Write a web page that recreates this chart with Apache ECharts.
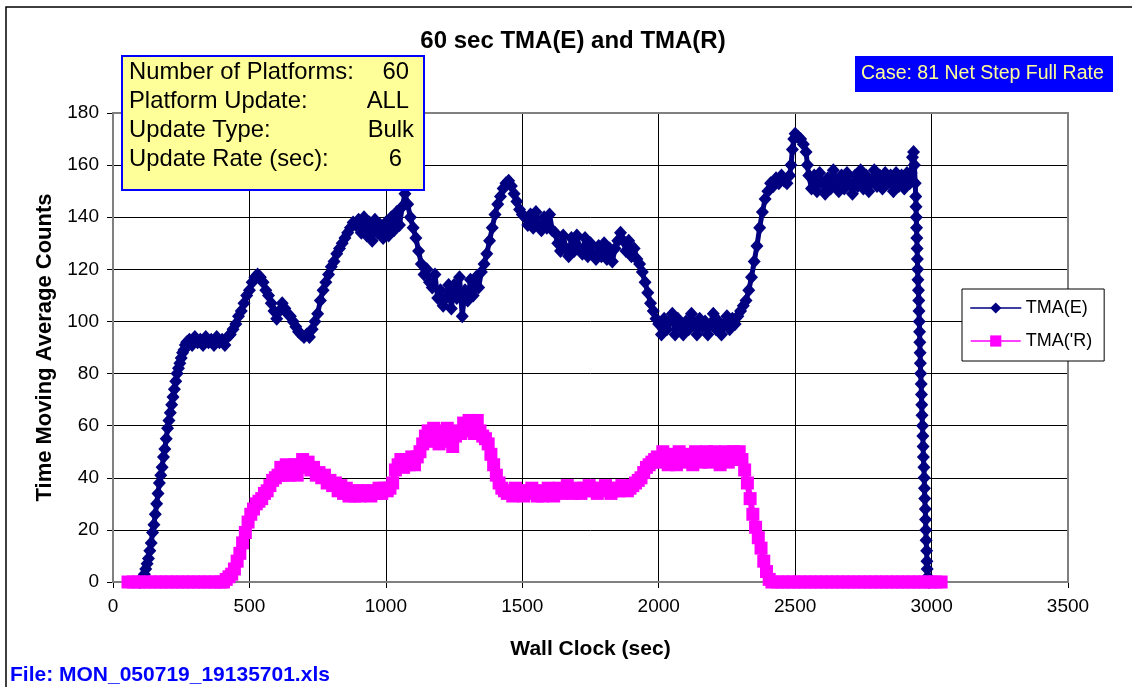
<!DOCTYPE html>
<html>
<head>
<meta charset="utf-8">
<script src="https://cdn.jsdelivr.net/npm/echarts@6/dist/echarts.min.js"></script>
<style>
html,body{margin:0;padding:0;background:#fff;}
#chart{width:1132px;height:687px;}
</style>
</head>
<body>
<div id="chart"></div>
<script>
// ---------------- DATA ----------------
const chartTitle = '60 sec TMA(E) and TMA(R)';
const xAxisName = 'Wall Clock (sec)';
const yAxisName = 'Time Moving Average Counts';
const seriesNames = ['TMA(E)', "TMA('R)"];
const infoLabels = ['Number of Platforms:', 'Platform Update:', 'Update Type:', 'Update Rate (sec):'];
const infoValues = ['60', 'ALL', 'Bulk', '6'];
const caseText = 'Case: 81 Net Step Full Rate';
const fileText = 'File: MON_050719_19135701.xls';

// TMA(E): [wall clock sec, count]
const tmaE = [
[100,0],[105,1],[110,2],[115,3],[120,5],[125,7],[130,9],[135,12],[140,15],[145,19],[150,22],[155,26],[160,30],[165,34],[170,38],[175,41],[180,44],[185,48],[190,51],[195,55],[200,59],[205,62],[210,65],[215,68],[220,71],[225,74],[230,77],[235,80],[240,82],[245,84],[250,86],[255,88],[260,89],[265,91],[270,92],
[280,93],[290,91],[300,94],[310,92],[320,93],[330,91],[340,94],[350,92],[360,93],[370,91],[380,94],[390,92],[400,93],[410,91],[420,94],
[430,95],[440,97],[450,99],[460,102],[470,104],[480,107],[490,110],[500,112],[510,115],[520,117],[530,118],[540,117],[550,115],[560,112],[570,110],[580,107],[590,104],[600,101],[610,104],[620,107],[630,105],[640,103],[650,102],[660,100],[670,98],[680,96],[690,95],[700,94],[710,95],[720,94],[730,97],[740,100],[750,103],[760,108],[770,112],[780,115],[790,118],[800,121],[810,123],[820,126],[830,128],[840,130],[850,132],[860,134],[870,136],[880,138],
[890,137],[900,139],[910,134],[920,140],[930,133],[940,138],[950,131],[960,139],[970,134],[980,137],[990,132],[1000,138],[1010,133],[1020,140],[1030,135],[1040,142],[1050,137],[1060,144],[1070,149],[1080,145],[1090,140],[1100,136],[1110,132],[1120,127],[1130,122],[1140,118],[1150,120],[1160,115],[1170,113],[1180,118],[1190,109],[1200,112],[1210,106],[1220,109],[1230,114],[1240,105],[1250,114],[1260,109],[1270,117],[1280,102],[1290,112],[1300,108],[1310,116],[1320,110],[1330,117],[1340,113],[1350,119],[1360,122],[1370,126],[1380,131],[1390,136],[1400,141],[1410,145],[1420,148],[1430,151],[1440,153],[1450,154],[1460,152],[1470,149],[1480,146],[1490,143],[1500,141],[1510,140],[1520,137],[1530,141],[1540,136],[1550,142],[1560,137],[1570,135],[1580,140],[1590,136],[1600,141],[1610,135],[1620,134],[1630,130],[1640,127],[1650,133],[1660,128],[1670,125],[1680,132],[1690,127],[1700,133],[1710,128],[1720,126],[1730,132],[1740,125],[1750,130],[1760,126],[1770,124],[1780,129],[1790,125],[1800,130],[1810,124],[1820,128],[1830,123],[1840,128],[1850,131],[1860,134],[1870,131],[1880,127],[1890,131],[1900,125],[1910,128],[1920,124],[1930,122],[1940,119],[1950,115],[1960,111],[1970,107],[1980,104],[1990,101],
[2000,99],[2010,95],[2020,101],[2030,97],[2040,100],[2050,103],[2060,95],[2070,101],[2080,98],[2090,95],[2100,100],[2110,97],[2120,103],[2130,99],[2140,95],[2150,101],[2160,98],[2170,100],[2180,95],[2190,99],[2200,103],[2210,97],[2220,100],[2230,95],[2240,99],[2250,102],[2260,97],[2270,101],[2280,99],[2290,102],[2300,104],[2310,106],[2320,108],[2330,112],[2340,117],[2350,123],[2360,129],[2370,136],[2380,142],[2390,147],[2400,150],[2410,153],[2420,152],[2430,155],[2440,153],[2450,156],[2460,154],[2470,153],[2480,156],[2485,160],[2490,166],[2495,170],[2500,172],[2510,171],[2520,170],[2530,168],[2540,165],[2545,160],[2550,156],
[2560,151],[2570,156],[2580,150],[2590,157],[2600,153],[2610,149],[2620,155],[2630,151],[2640,158],[2650,153],[2660,150],[2670,156],[2680,151],[2690,157],[2700,153],[2710,149],[2720,156],[2730,152],[2740,158],[2750,151],[2760,156],[2770,150],[2780,154],[2790,158],[2800,152],[2810,156],[2820,151],[2830,157],[2840,153],[2850,156],[2860,150],[2870,157],[2880,152],[2890,156],[2900,151],[2910,157],[2920,153],[2925,157],[2930,163],[2934,165],[2937,160],[2940,153],
[2942,148],[2943,144],[2944,140],[2945,136],[2946,132],[2947,128],[2948,124],[2949,120],[2950,116],[2952,112],[2953,108],[2954,104],[2955,100],[2956,96],[2957,92],[2958,88],[2959,84],[2960,80],[2962,76],[2963,72],[2964,68],[2965,64],[2967,60],[2968,56],[2969,52],[2970,48],[2972,44],[2973,40],[2974,36],[2975,32],[2977,28],[2978,24],[2979,20],[2980,16],[2982,12],[2983,8],[2984,5],[2986,2],[2988,0]
];

// TMA('R): [wall clock sec, count]
const tmaR = [
[55,0],[75,0],[95,0],[115,0],[135,0],[155,0],[175,0],[195,0],[215,0],[235,0],[255,0],[275,0],[295,0],[315,0],[335,0],[355,0],[375,0],[395,0],
[405,0],[415,1],[425,2],[435,3],[445,5],[455,8],[465,11],[475,15],[485,19],[495,23],[505,26],[515,28],[525,30],[535,31],[545,32],[555,34],[565,35],[575,37],[585,39],[595,40],[605,41],[615,44],[625,41],[635,45],[645,41],[655,44],[665,45],[675,41],[685,45],[695,47],[705,44],[715,46],[725,43],[735,44],[745,41],[755,42],[765,40],[775,41],[785,38],[795,39],[805,37],[815,38],[825,35],[835,37],[845,34],[855,36],[865,33],[875,35],[885,33],[895,35],[905,33],[915,35],[925,34],[935,35],[945,33],[955,35],[965,34],[975,36],[985,34],[995,36],[1005,35],[1015,36],[1025,38],[1035,43],[1045,45],[1055,47],[1065,44],[1075,47],[1085,45],[1095,48],[1105,45],[1115,48],[1125,50],[1135,53],[1145,56],[1155,58],[1165,54],[1175,59],[1185,56],[1195,53],[1205,58],[1215,55],[1225,59],[1235,54],[1245,52],[1255,56],[1265,58],[1275,57],[1285,61],[1295,58],[1305,62],[1315,59],[1325,57],[1335,62],[1345,58],[1355,56],[1365,55],[1375,53],[1385,49],[1395,45],[1405,41],[1415,38],[1425,36],[1435,35],[1445,34],
[1455,35],[1465,33],[1475,36],[1485,34],[1495,35],[1505,33],[1515,35],[1525,34],[1535,36],[1545,35],[1555,33],[1565,35],[1575,33],[1585,34],[1595,36],[1605,35],[1615,33],[1625,35],[1635,36],[1645,34],[1655,35],[1665,37],[1675,35],[1685,34],[1695,36],[1705,35],[1715,34],[1725,36],[1735,35],[1745,37],[1755,36],[1765,35],[1775,34],[1785,36],[1795,35],[1805,37],[1815,36],[1825,34],[1835,35],[1845,36],[1855,35],[1865,37],[1875,36],[1885,35],[1895,36],
[1905,37],[1915,38],[1925,39],[1935,40],[1945,42],[1955,44],[1965,45],[1975,46],[1985,47],[1995,48],[2005,46],[2015,50],[2025,47],[2035,45],[2045,49],[2055,47],[2065,45],[2075,50],[2085,47],[2095,46],[2105,49],[2115,47],[2125,45],[2135,50],[2145,47],[2155,46],[2165,48],[2175,50],[2185,46],[2195,48],[2205,50],[2215,47],[2225,45],[2235,48],[2245,50],[2255,46],[2265,48],[2275,50],[2285,47],[2295,50],[2305,47],[2315,43],[2325,38],[2335,32],[2345,26],[2355,21],[2365,17],[2375,13],[2385,8],[2395,4],[2405,1],[2415,0],
[2435,0],[2455,0],[2475,0],[2495,0],[2515,0],[2535,0],[2555,0],[2575,0],[2595,0],[2615,0],[2635,0],[2655,0],[2675,0],[2695,0],[2715,0],[2735,0],[2755,0],[2775,0],[2795,0],[2815,0],[2835,0],[2855,0],[2875,0],[2895,0],[2915,0],[2935,0],[2955,0],[2975,0],[2995,0],[3015,0],[3035,0]
];

const xMin = 0, xMax = 3500, xStep = 500;
const yMin = 0, yMax = 180, yStep = 20;

// ---------------- CHART ----------------
const FONT = "'Liberation Sans', Arial, sans-serif";
const chart = echarts.init(document.getElementById('chart'), null, {renderer: 'canvas'});

const infoRowsY = [72, 101, 130, 159];
const infoValueRight = [409, 409, 414, 402];
const graphics = [
  {type: 'rect', z: 0, silent: true, shape: {x: 6, y: 7, width: 1140, height: 700},
   style: {fill: '#fff', stroke: '#000', lineWidth: 1.5}},
  {type: 'text', z: 100, style: {text: chartTitle, x: 573, y: 41, align: 'center', textAlign: 'center',
   verticalAlign: 'middle', textVerticalAlign: 'middle', fill: '#000',
   font: 'bold 24px ' + FONT}},
  {type: 'rect', z: 100, shape: {x: 122, y: 56, width: 302, height: 134},
   style: {fill: '#FFFF99', stroke: '#0000FF', lineWidth: 2}},
  {type: 'rect', z: 100, shape: {x: 855, y: 56, width: 258, height: 36},
   style: {fill: '#0000FF', stroke: '#0000FF', lineWidth: 0}},
  {type: 'text', z: 101, style: {text: caseText, x: 861, y: 74, align: 'left', textAlign: 'left',
   verticalAlign: 'middle', textVerticalAlign: 'middle', fill: '#FFFF99', font: '19.5px ' + FONT}},
  {type: 'text', z: 101, style: {text: fileText, x: 10, y: 675, align: 'left', textAlign: 'left',
   verticalAlign: 'middle', textVerticalAlign: 'middle', fill: '#0000FF', font: 'bold 21px ' + FONT}}
];
infoLabels.forEach((t, i) => {
  graphics.push({type: 'text', z: 101, style: {text: t, x: 129, y: infoRowsY[i], align: 'left', textAlign: 'left',
    verticalAlign: 'middle', textVerticalAlign: 'middle', fill: '#000', font: '23.8px ' + FONT}});
  graphics.push({type: 'text', z: 101, style: {text: infoValues[i], x: infoValueRight[i], y: infoRowsY[i], align: 'right', textAlign: 'right',
    verticalAlign: 'middle', textVerticalAlign: 'middle', fill: '#000', font: '23.8px ' + FONT}});
});

const option = {
  animation: false,
  backgroundColor: '#fff',
  textStyle: {fontFamily: FONT},
  graphic: {elements: graphics},
  grid: {left: 113, right: 64, top: 113, bottom: 105, show: true, borderColor: '#808080', borderWidth: 2, backgroundColor: 'transparent', z: 1},
  legend: {
    orient: 'vertical', left: 962, top: 289, z: 50,
    padding: [10, 12, 11, 8], itemGap: 15, itemWidth: 50, itemHeight: 14,
    backgroundColor: '#fff', borderColor: '#000', borderWidth: 1, borderRadius: 0,
    lineStyle: {width: 1.5},
    textStyle: {fontSize: 18, color: '#000', fontFamily: FONT},
    data: seriesNames
  },
  xAxis: {
    type: 'value', min: xMin, max: xMax, interval: xStep,
    name: xAxisName, nameLocation: 'middle', nameGap: 57,
    nameTextStyle: {fontSize: 21, fontWeight: 'bold', color: '#000', fontFamily: FONT},
    axisLine: {show: true, onZero: false, lineStyle: {color: '#000', width: 1.5}},
    axisTick: {show: true, inside: false, length: 6, lineStyle: {color: '#000'}},
    axisLabel: {fontSize: 19, color: '#000', margin: 15, fontFamily: FONT, formatter: v => String(v)},
    splitLine: {show: true, showMinLine: false, showMaxLine: false, lineStyle: {color: '#000', width: 1}}
  },
  yAxis: {
    type: 'value', min: yMin, max: yMax, interval: yStep,
    name: yAxisName, nameLocation: 'middle', nameGap: 55, nameRotate: 90,
    nameTextStyle: {fontSize: 22, fontWeight: 'bold', color: '#000', fontFamily: FONT},
    axisLine: {show: true, onZero: false, lineStyle: {color: '#000', width: 1.5}},
    axisTick: {show: true, inside: false, length: 6, lineStyle: {color: '#000'}},
    axisLabel: {fontSize: 19, color: '#000', margin: 14, fontFamily: FONT, formatter: v => String(v)},
    splitLine: {show: true, showMinLine: false, showMaxLine: false, lineStyle: {color: '#000', width: 1}}
  },
  series: [
    {
      name: seriesNames[0], type: 'line', data: tmaE, z: 3,
      symbol: 'diamond', symbolSize: [13, 14], showAllSymbol: true,
      lineStyle: {color: '#000080', width: 5, join: 'round', cap: 'round'},
      itemStyle: {color: '#000080', borderColor: '#000080', borderWidth: 0}
    },
    {
      name: seriesNames[1], type: 'line', data: tmaR, z: 4,
      symbol: 'rect', symbolSize: 13, showAllSymbol: true,
      lineStyle: {color: '#FF00FF', width: 6, join: 'round', cap: 'butt'},
      itemStyle: {color: '#FF00FF', borderColor: '#FF00FF', borderWidth: 0}
    }
  ]
};
chart.setOption(option);
</script>
</body>
</html>
